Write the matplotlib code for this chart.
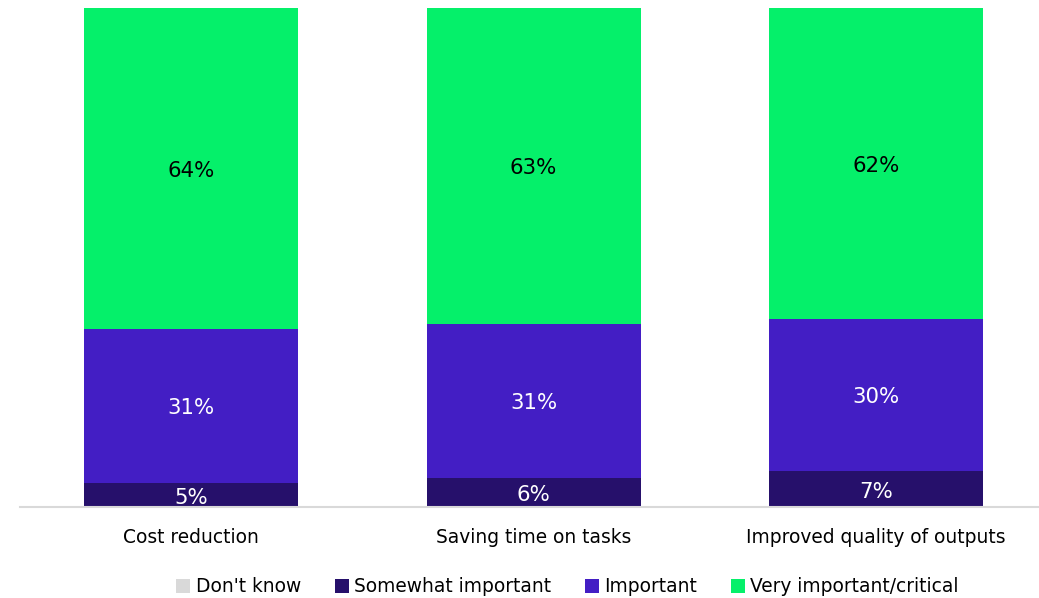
import numpy as np
import matplotlib
matplotlib.use("Agg")
import matplotlib.pyplot as plt
from matplotlib.patches import Patch

plt.rcParams['font.family'] = ['DejaVu Sans']

# Data (percent of respondents)
categories = ['Cost reduction', 'Saving time on tasks', 'Improved quality of outputs']
series_names = ["Don't know", 'Somewhat important', 'Important', 'Very important/critical']
dont_know = [0.0, 0.0, 0.0]
somewhat = [4.8, 5.8, 7.2]
important = [30.9, 30.9, 30.5]
very = [64.3, 63.3, 62.3]
labels_somewhat = ['5%', '6%', '7%']
labels_important = ['31%', '31%', '30%']
labels_very = ['64%', '63%', '62%']

colors = ['#d9d9d9', '#26106b', '#431ec4', '#05f06a']
text_colors = ['black', 'white', 'white', 'black']

fig = plt.figure(figsize=(10.39, 5.98), dpi=100)
ax = fig.add_axes([20 / 1039, 91 / 598, 1018 / 1039, 499 / 598])

x = np.arange(len(categories))
width = 0.625
bottom = np.zeros(len(categories))
series = [dont_know, somewhat, important, very]
seg_labels = [None, labels_somewhat, labels_important, labels_very]
for vals, col, tcol, labs in zip(series, colors, text_colors, seg_labels):
    vals = np.array(vals)
    ax.bar(x, vals, width, bottom=bottom, color=col, edgecolor='none')
    if labs is not None:
        for xi, b, v, lab in zip(x, bottom, vals, labs):
            ax.text(xi, b + v / 2 - 0.5, lab, ha='center', va='center',
                    color=tcol, fontsize=15.3)
    bottom = bottom + vals

ax.set_xlim(-0.5, 2.473)
ax.set_ylim(0, 100)
ax.set_yticks([])
ax.set_xticks(x)
ax.set_xticklabels(categories, fontsize=13.4)
ax.tick_params(axis='x', length=0, pad=15)
for side in ['top', 'right', 'left']:
    ax.spines[side].set_visible(False)
ax.spines['bottom'].set_color('#d9d9d9')
ax.spines['bottom'].set_linewidth(1.5)

handles = [Patch(facecolor=c, edgecolor='none') for c in colors]
fig.legend(handles, series_names, loc='center', bbox_to_anchor=(567.5 / 1039, 1 - 587 / 598),
           ncol=4, frameon=False, fontsize=13.4, handlelength=0.75, handleheight=0.75,
           handletextpad=0.3, columnspacing=1.8)

fig.savefig('out.png', dpi=100)
